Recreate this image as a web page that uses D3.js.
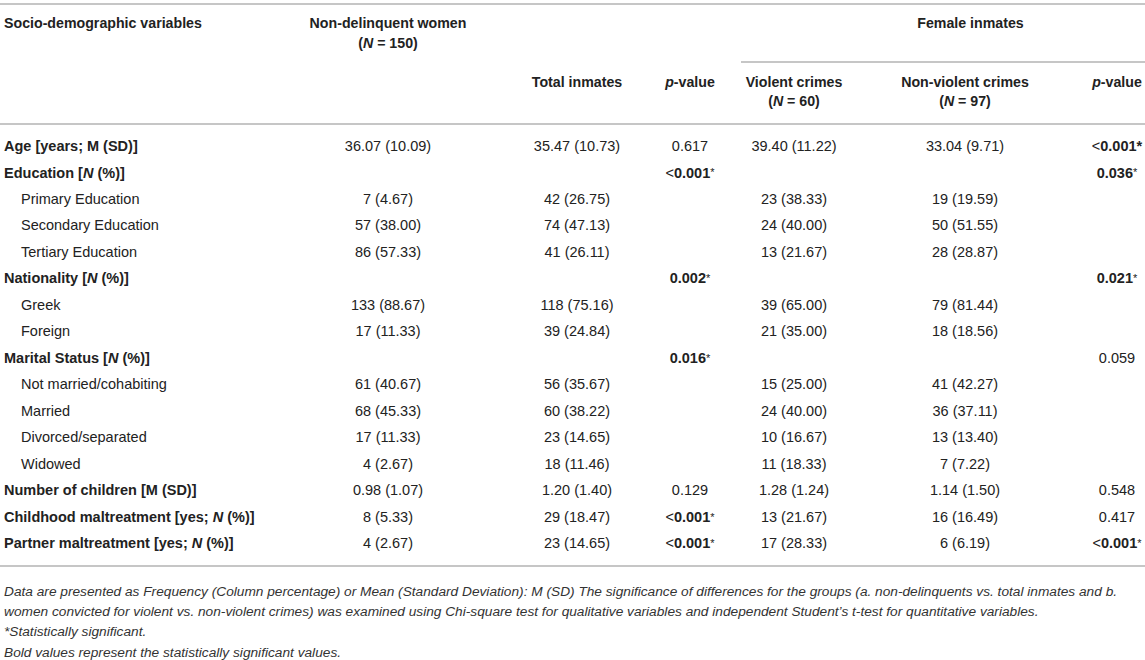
<!DOCTYPE html>
<html>
<head>
<meta charset="utf-8">
<script src="https://cdn.jsdelivr.net/npm/d3@7/dist/d3.min.js"></script>
<style>
  html, body { margin: 0; padding: 0; background: #fff; }
  svg { display: block; }
  text { font-family: "Liberation Sans", Arial, Helvetica, sans-serif; fill: #222; }
</style>
</head>
<body>
<svg id="chart" width="1145" height="660"></svg>
<script>
// ---------------- DATA ----------------
const rowLabels = [
  "Age [years; M (SD)]",
  "Education [N (%)]",
  "Primary Education",
  "Secondary Education",
  "Tertiary Education",
  "Nationality [N (%)]",
  "Greek",
  "Foreign",
  "Marital Status [N (%)]",
  "Not married/cohabiting",
  "Married",
  "Divorced/separated",
  "Widowed",
  "Number of children [M (SD)]",
  "Childhood maltreatment [yes; N (%)]",
  "Partner maltreatment [yes; N (%)]"
];
const rowIndent = [0,0,1,1,1,0,1,1,0,1,1,1,1,0,0,0];
const nonDelinquent = ["36.07 (10.09)","","7 (4.67)","57 (38.00)","86 (57.33)","","133 (88.67)","17 (11.33)","","61 (40.67)","68 (45.33)","17 (11.33)","4 (2.67)","0.98 (1.07)","8 (5.33)","4 (2.67)"];
const totalInmates  = ["35.47 (10.73)","","42 (26.75)","74 (47.13)","41 (26.11)","","118 (75.16)","39 (24.84)","","56 (35.67)","60 (38.22)","23 (14.65)","18 (11.46)","1.20 (1.40)","29 (18.47)","23 (14.65)"];
const pValue1       = ["0.617","<0.001*","","","","0.002*","","","0.016*","","","","","0.129","<0.001*","<0.001*"];
const violent       = ["39.40 (11.22)","","23 (38.33)","24 (40.00)","13 (21.67)","","39 (65.00)","21 (35.00)","","15 (25.00)","24 (40.00)","10 (16.67)","11 (18.33)","1.28 (1.24)","13 (21.67)","17 (28.33)"];
const nonViolent    = ["33.04 (9.71)","","19 (19.59)","50 (51.55)","28 (28.87)","","79 (81.44)","18 (18.56)","","41 (42.27)","36 (37.11)","13 (13.40)","7 (7.22)","1.14 (1.50)","16 (16.49)","6 (6.19)"];
const pValue2       = ["<0.001**","0.036*","","","","0.021*","","","0.059","","","","","0.548","0.417","<0.001*"];
const footnotes = [
  "Data are presented as Frequency (Column percentage) or Mean (Standard Deviation): M (SD) The significance of differences for the groups (a. non-delinquents vs. total inmates and b.",
  "women convicted for violent vs. non-violent crimes) was examined using Chi-square test for qualitative variables and independent Student’s t-test for quantitative variables.",
  "*Statistically significant.",
  "Bold values represent the statistically significant values."
];

// ---------------- LAYOUT ----------------
const svg = d3.select("#chart");
const W = 1145;
const FS = 14.5, HFS = 14.2;
const colKeys = ["nd","ti","p1","vc","nv","p2"];
const colX = d3.scaleOrdinal().domain(colKeys).range([388, 577, 690, 794, 965, 1117]);
const columns = [nonDelinquent, totalInmates, pValue1, violent, nonViolent, pValue2];
const y = d3.scalePoint().domain(d3.range(rowLabels.length)).range([146, 543]);
const lineColor = "#b3b3b3";

function hline(x1, x2, yy) {
  svg.append("line").attr("x1", x1).attr("x2", x2).attr("y1", yy).attr("y2", yy)
    .attr("stroke", lineColor).attr("stroke-width", 1.6);
}
hline(0, W, 4);
hline(741, W, 62);
hline(0, W, 124);
hline(0, W, 566);

// rich text: italic N / p
function richText(sel, str, bold) {
  const parts = str.split(/(\bN\b|\bp\b)/);
  parts.forEach(p => {
    if (p === "") return;
    const t = sel.append("tspan").text(p);
    if (p === "N" || p === "p") t.attr("font-style", "italic");
    if (bold) t.attr("font-weight", "bold");
  });
}

// headers
const hdr = svg.append("g").attr("font-size", HFS).attr("font-weight", "bold");
function header(x, yy, str, anchor) {
  const t = hdr.append("text").attr("x", x).attr("y", yy).attr("dy", "0.35em")
    .attr("text-anchor", anchor || "middle");
  richText(t, str, true);
}
header(4, 23, "Socio-demographic variables", "start");
header(colX("nd"), 23, "Non-delinquent women");
header(colX("nd"), 43, "(N = 150)");
header((colX("vc") + colX("p2")) / 2 + 15, 23, "Female inmates");
header(colX("ti"), 82, "Total inmates");
header(colX("p1"), 82, "p-value");
header(colX("vc"), 82, "Violent crimes");
header(colX("vc"), 101, "(N = 60)");
header(colX("nv"), 82, "Non-violent crimes");
header(colX("nv"), 101, "(N = 97)");
header(colX("p2"), 82, "p-value");

// row labels
const body = svg.append("g").attr("font-size", FS);
rowLabels.forEach((lab, i) => {
  const t = body.append("text")
    .attr("x", rowIndent[i] ? 21 : 4).attr("y", y(i)).attr("dy", "0.35em");
  richText(t, lab, !rowIndent[i]);
});

// cells
columns.forEach((col, ci) => {
  const key = colKeys[ci];
  body.selectAll(null).data(col.map((v, i) => ({v, i}))).join("text")
    .filter(d => d.v !== "")
    .attr("x", colX(key)).attr("y", d => y(d.i)).attr("dy", "0.35em")
    .attr("text-anchor", "middle")
    .each(function(d) {
      const t = d3.select(this);
      const sig = d.v.endsWith("*");
      if (!sig) { t.text(d.v); return; }
      const strongStar = d.v.endsWith("**");
      let core = d.v.replace(/\*+$/, "");
      if (core.startsWith("<")) {
        t.append("tspan").text("<").attr("font-weight", "normal");
        core = core.slice(1);
      }
      t.append("tspan").text(core).attr("font-weight", "bold");
      if (strongStar) t.append("tspan").text("*").attr("font-weight", "bold");
      else t.append("tspan").text("*").attr("font-size", 11).attr("dy", "-0.1em");
    });
});

// footnotes
const fn = svg.append("g").attr("font-size", 13.7).attr("font-style", "italic");
const fy = d3.scalePoint().domain(d3.range(footnotes.length)).range([591, 652]);
footnotes.forEach((f, i) => {
  fn.append("text").attr("x", 4).attr("y", fy(i)).attr("dy", "0.35em").text(f).style("fill", "#333");
});
</script>
</body>
</html>
